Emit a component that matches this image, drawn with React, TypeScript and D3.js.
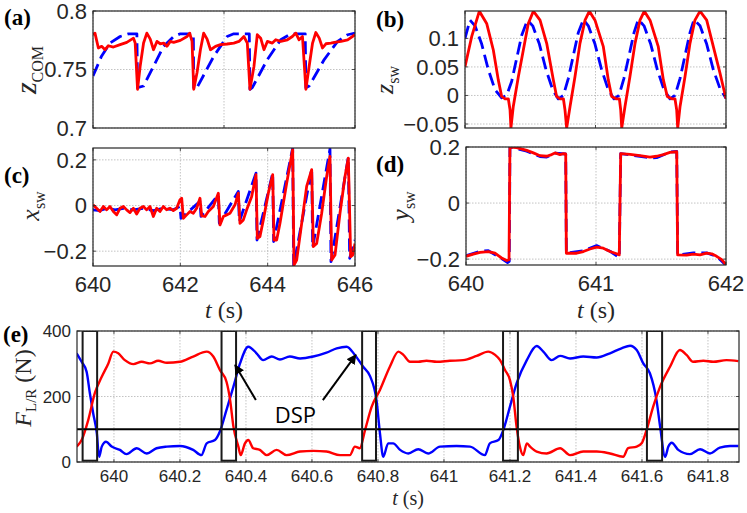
import React from "react";
import * as d3 from "d3";

type Pt = [number, number];

// (a) CoM height: reference (blue dashed) and measured (red)
const comRef: Pt[] = [
  [640.0, 0.7444], [640.065, 0.7614], [640.13, 0.7726], [640.207, 0.7782], [640.271, 0.7805], [640.335, 0.7805],
  [640.34, 0.7345], [640.386, 0.7359], [640.462, 0.7528], [640.539, 0.7698], [640.616, 0.7782], [640.667, 0.7805],
  [640.766, 0.7805], [640.769, 0.7331], [640.794, 0.7345], [640.922, 0.7613], [641.024, 0.7782], [641.075, 0.7805],
  [641.193, 0.7805], [641.198, 0.7331], [641.216, 0.7345], [641.331, 0.7585], [641.433, 0.7754], [641.51, 0.7805],
  [641.62, 0.7805], [641.625, 0.7345], [641.65, 0.7359], [641.765, 0.7585], [641.867, 0.774], [641.944, 0.7797],
  [642.0, 0.7811],
];
const comAct: Pt[] = [
  [640.0, 0.7797], [640.015, 0.7811], [640.041, 0.7684], [640.066, 0.7698], [640.092, 0.7669], [640.117, 0.7703],
  [640.156, 0.7692], [640.207, 0.7712], [640.258, 0.7732], [640.309, 0.7768], [640.322, 0.7726], [640.34, 0.7331],
  [640.36, 0.7528], [640.386, 0.7726], [640.411, 0.7811], [640.437, 0.776], [640.462, 0.7669], [640.488, 0.774],
  [640.513, 0.772], [640.539, 0.7726], [640.564, 0.7698], [640.59, 0.774], [640.616, 0.7732], [640.667, 0.7749],
  [640.718, 0.7782], [640.738, 0.7811], [640.756, 0.774], [640.769, 0.7331], [640.794, 0.7472], [640.82, 0.7669],
  [640.845, 0.7811], [640.871, 0.776], [640.897, 0.7669], [640.935, 0.7698], [640.973, 0.7712], [641.024, 0.7718],
  [641.075, 0.7726], [641.114, 0.774], [641.152, 0.7782], [641.178, 0.7726], [641.198, 0.7331], [641.229, 0.7528],
  [641.254, 0.7797], [641.28, 0.7768], [641.305, 0.7669], [641.331, 0.774], [641.369, 0.7726], [641.395, 0.7754],
  [641.433, 0.774], [641.484, 0.7754], [641.522, 0.7782], [641.548, 0.7811], [641.573, 0.7754], [641.599, 0.7782],
  [641.625, 0.7331], [641.65, 0.7528], [641.676, 0.7726], [641.701, 0.7816], [641.727, 0.7768], [641.752, 0.7684],
  [641.778, 0.772], [641.816, 0.7726], [641.842, 0.7732], [641.893, 0.774], [641.944, 0.7754], [642.0, 0.7797],
];

// (b) swing foot height
const zswRef: Pt[] = [
  [640.0, 0.1], [640.038, 0.132], [640.077, 0.122], [640.128, 0.09], [640.179, 0.045], [640.23, 0.01],
  [640.281, -0.004], [640.319, 0.0], [640.358, 0.025], [640.396, 0.065], [640.434, 0.105], [640.478, 0.132],
  [640.519, 0.122], [640.57, 0.09], [640.621, 0.045], [640.672, 0.01], [640.715, -0.006], [640.754, 0.0],
  [640.792, 0.03], [640.83, 0.07], [640.868, 0.11], [640.907, 0.133], [640.945, 0.122], [640.996, 0.09],
  [641.047, 0.045], [641.098, 0.01], [641.142, -0.006], [641.18, 0.0], [641.218, 0.03], [641.257, 0.07],
  [641.295, 0.11], [641.328, 0.133], [641.372, 0.122], [641.423, 0.09], [641.474, 0.045], [641.525, 0.01],
  [641.571, -0.006], [641.609, 0.0], [641.648, 0.03], [641.686, 0.07], [641.724, 0.11], [641.755, 0.133],
  [641.801, 0.122], [641.852, 0.09], [641.903, 0.045], [641.954, 0.012], [642.0, -0.005],
];
const zswAct: Pt[] = [
  [640.0, 0.0506], [640.051, 0.103], [640.11, 0.1477], [640.166, 0.1262], [640.217, 0.0797], [640.255, 0.0273],
  [640.281, -0.0017], [640.307, -0.0058], [640.332, -0.0058], [640.345, -0.025], [640.352, -0.057], [640.37, -0.0192],
  [640.409, 0.0331], [640.447, 0.0797], [640.485, 0.1262], [640.524, 0.1477], [640.575, 0.132], [640.626, 0.0913],
  [640.677, 0.0273], [640.702, -0.0017], [640.728, -0.0058], [640.754, -0.0058], [640.766, -0.025], [640.779, -0.057],
  [640.805, -0.0192], [640.843, 0.0331], [640.881, 0.0913], [640.92, 0.132], [640.953, 0.1477], [640.996, 0.132],
  [641.06, 0.0855], [641.098, 0.0273], [641.124, -0.0017], [641.157, -0.0058], [641.183, -0.0058], [641.193, -0.025],
  [641.201, -0.057], [641.226, -0.0192], [641.264, 0.0331], [641.303, 0.0913], [641.341, 0.132], [641.374, 0.1477],
  [641.418, 0.132], [641.481, 0.0855], [641.52, 0.0273], [641.55, -0.0017], [641.584, -0.0058], [641.609, -0.0058],
  [641.622, -0.025], [641.63, -0.057], [641.648, -0.0192], [641.686, 0.0331], [641.724, 0.0913], [641.762, 0.132],
  [641.801, 0.1477], [641.852, 0.132], [641.903, 0.0855], [641.954, 0.039], [642.0, -0.0058],
];

// (c) swing foot x
const xswRef: Pt[] = [
  [640.0, -0.019], [640.16, -0.022], [640.313, -0.012], [640.504, -0.019], [640.695, -0.012], [640.924, -0.019],
  [641.153, -0.012], [641.382, -0.022], [641.611, -0.012], [641.84, -0.019], [641.992, -0.004], [642.015, -0.056],
  [642.45, 0.018], [642.473, -0.048], [642.87, 0.047], [642.893, -0.078], [643.328, 0.062], [643.351, -0.07],
  [643.733, 0.142], [643.756, -0.151], [644.115, 0.142], [644.137, -0.158], [644.573, 0.252], [644.595, -0.265],
  [645.008, 0.16], [645.031, -0.183], [645.427, 0.248], [645.45, -0.246], [645.847, 0.212], [645.878, -0.231],
  [646.0, -0.151],
];
const xswAct: Pt[] = [
  [640.0, 0.003], [640.084, -0.012], [640.16, -0.026], [640.237, -0.004], [640.313, -0.019], [640.389, -0.004],
  [640.466, -0.026], [640.542, -0.041], [640.618, -0.012], [640.695, -0.004], [640.771, -0.019], [640.847, -0.031],
  [640.924, -0.012], [641.0, -0.037], [641.076, -0.012], [641.153, -0.004], [641.229, -0.019], [641.305, -0.004],
  [641.382, -0.048], [641.458, -0.012], [641.534, -0.026], [641.611, -0.004], [641.687, -0.019], [641.763, -0.012],
  [641.84, -0.022], [641.916, -0.012], [641.992, 0.025], [642.031, 0.032], [642.069, -0.056], [642.145, -0.041],
  [642.221, -0.026], [642.298, -0.034], [642.374, -0.012], [642.45, 0.032], [642.489, -0.045], [642.565, -0.048],
  [642.641, -0.026], [642.756, -0.004], [642.87, 0.054], [642.908, -0.085], [642.985, -0.048], [643.061, -0.041],
  [643.137, -0.034], [643.252, 0.003], [643.328, 0.054], [643.366, -0.078], [643.443, -0.063], [643.519, -0.019],
  [643.634, 0.04], [643.733, 0.135], [643.763, -0.144], [643.824, -0.136], [643.901, -0.063], [644.015, 0.054],
  [644.115, 0.135], [644.145, -0.151], [644.206, -0.151], [644.282, -0.078], [644.435, 0.098], [644.573, 0.245],
  [644.603, -0.261], [644.664, -0.239], [644.779, -0.078], [644.893, 0.084], [645.008, 0.157], [645.046, -0.18],
  [645.122, -0.166], [645.237, -0.034], [645.351, 0.127], [645.427, 0.215], [645.466, -0.239], [645.542, -0.217],
  [645.656, -0.034], [645.771, 0.127], [645.847, 0.208], [645.901, -0.224], [645.947, -0.217], [646.0, -0.166],
];

// (d) swing foot y
const yswRef: Pt[] = [
  [640.0, -0.188], [640.108, -0.172], [640.172, -0.17], [640.274, -0.198], [640.32, -0.212], [640.333, -0.208],
  [640.338, 0.2], [640.467, 0.185], [640.518, 0.175], [640.569, 0.166], [640.621, 0.164], [640.685, 0.178],
  [640.767, 0.175], [640.772, -0.179], [640.903, -0.17], [641.005, -0.152], [641.108, -0.172], [641.17, -0.192],
  [641.179, -0.194], [641.19, 0.176], [641.338, 0.167], [641.415, 0.161], [641.467, 0.162], [641.569, 0.182],
  [641.621, 0.184], [641.628, -0.185], [641.749, -0.178], [641.851, -0.178], [641.928, -0.19], [642.0, -0.222],
];
const yswAct: Pt[] = [
  [640.0, -0.19], [640.056, -0.182], [640.108, -0.176], [640.172, -0.173], [640.223, -0.179], [640.274, -0.196],
  [640.313, -0.205], [640.331, -0.202], [640.338, 0.2], [640.39, 0.198], [640.467, 0.188], [640.518, 0.179],
  [640.569, 0.169], [640.621, 0.167], [640.659, 0.173], [640.685, 0.179], [640.723, 0.173], [640.749, 0.176],
  [640.767, 0.175], [640.772, -0.179], [640.851, -0.179], [640.903, -0.173], [640.954, -0.164], [641.005, -0.157],
  [641.056, -0.161], [641.108, -0.173], [641.159, -0.181], [641.179, -0.185], [641.19, 0.176], [641.262, 0.174],
  [641.338, 0.169], [641.415, 0.164], [641.467, 0.167], [641.518, 0.173], [641.569, 0.181], [641.621, 0.183],
  [641.628, -0.185], [641.697, -0.186], [641.749, -0.182], [641.8, -0.185], [641.851, -0.179], [641.89, -0.181],
  [641.928, -0.19], [641.967, -0.202], [642.0, -0.22],
];

// (e) ground reaction forces
const forceRed: Pt[] = [
  [639.887, 47], [639.902, 67], [639.922, 128], [639.942, 210], [639.963, 260], [639.983, 301], [639.998, 337],
  [640.013, 332], [640.033, 311], [640.059, 299], [640.084, 306], [640.109, 301], [640.134, 309], [640.16, 303],
  [640.2, 306], [640.24, 322], [640.281, 337], [640.301, 322], [640.321, 281], [640.341, 245], [640.352, 189],
  [640.362, 108], [640.377, 47], [640.384, 21], [640.397, 57], [640.407, 67], [640.422, 42], [640.442, 37],
  [640.463, 21], [640.493, 37], [640.523, 21], [640.564, 32], [640.604, 34], [640.644, 32], [640.685, 21],
  [640.715, 21], [640.73, 47], [640.745, 42], [640.761, 98], [640.781, 169], [640.806, 220], [640.836, 291],
  [640.862, 337], [640.877, 327], [640.897, 306], [640.922, 306], [640.947, 309], [640.978, 306], [641.018, 309],
  [641.058, 311], [641.099, 324], [641.134, 337], [641.155, 327], [641.17, 311], [641.185, 281], [641.2, 250],
  [641.21, 199], [641.22, 108], [641.23, 47], [641.24, 21], [641.251, 57], [641.261, 47], [641.281, 32],
  [641.311, 26], [641.352, 42], [641.382, 21], [641.422, 32], [641.463, 32], [641.503, 26], [641.543, 16],
  [641.558, 42], [641.584, 47], [641.599, 57], [641.614, 98], [641.634, 169], [641.655, 230], [641.685, 291],
  [641.715, 342], [641.735, 327], [641.755, 306], [641.786, 309], [641.816, 306], [641.856, 311], [641.892, 308],
];
const forceBlue: Pt[] = [
  [639.887, 332], [639.902, 306], [639.917, 276], [639.927, 210], [639.937, 149], [639.948, 88], [639.955, 16],
  [639.963, 47], [639.976, 62], [639.993, 47], [640.018, 37], [640.038, 24], [640.069, 42], [640.099, 26],
  [640.129, 42], [640.16, 47], [640.2, 49], [640.24, 37], [640.265, 21], [640.281, 57], [640.306, 67],
  [640.321, 93], [640.341, 159], [640.362, 230], [640.382, 301], [640.407, 352], [640.432, 332], [640.452, 311],
  [640.478, 322], [640.503, 313], [640.533, 322], [640.564, 316], [640.604, 322], [640.644, 334], [640.675, 347],
  [640.705, 352], [640.73, 327], [640.755, 291], [640.776, 262], [640.796, 185], [640.806, 88], [640.816, 16],
  [640.831, 57], [640.846, 57], [640.867, 37], [640.892, 26], [640.922, 39], [640.952, 26], [640.988, 47],
  [641.038, 49], [641.079, 47], [641.124, 21], [641.139, 57], [641.165, 67], [641.18, 98], [641.2, 169],
  [641.22, 240], [641.251, 311], [641.281, 354], [641.301, 337], [641.326, 311], [641.352, 324], [641.382, 316],
  [641.422, 322], [641.463, 319], [641.503, 332], [641.538, 347], [641.564, 355], [641.584, 342], [641.604, 301],
  [641.624, 271], [641.644, 189], [641.655, 108], [641.67, 16], [641.68, 47], [641.69, 59], [641.71, 37],
  [641.745, 24], [641.776, 39], [641.806, 26], [641.836, 44], [641.867, 49], [641.892, 49],
];
const dspStart = [639.905, 640.326, 640.752, 641.179, 641.615];
const dspEnd = [639.949, 640.37, 640.794, 641.224, 641.661];
const threshold = 100;
const arrowTail: Pt[] = [[640.43, 189], [640.633, 189]];
const arrowHead: Pt[] = [[640.367, 296], [640.733, 327]];

const ticksA = [0.7, 0.75, 0.8];
const ticksB = [-0.05, 0, 0.05, 0.1];
const ticksCD = [-0.2, 0, 0.2];
const ticksTimeShort = [640, 641, 642];
const ticksTimeLong = [640, 642, 644, 646];
const ticksForce = [0, 200, 400];
const ticksForceTime = [640, 640.2, 640.4, 640.6, 640.8, 641, 641.2, 641.4, 641.6, 641.8];

const SANS = "'Liberation Sans', Arial, sans-serif";
const SERIF = "'Liberation Serif', 'Times New Roman', serif";
const RED = "#ff0000";
const BLUE = "#0000ff";

interface Box { l: number; r: number; t: number; b: number }
type Sx = d3.ScaleLinear<number, number>;

interface PanelProps {
  id: string;
  box: Box;
  xDomain: [number, number];
  yDomain: [number, number];
  xTicks: number[];
  yTicks: number[];
  showX: boolean;
  font: number;
  ref_?: Pt[];
  act?: Pt[];
  refDashed?: boolean;
  lw?: number;
  extra?: (x: Sx, y: Sx) => React.ReactNode;
}

function fmt(v: number) {
  return d3.format("~g")(+v.toFixed(4));
}

function Panel(p: PanelProps) {
  const { box } = p;
  const x = d3.scaleLinear().domain(p.xDomain).range([box.l, box.r]);
  const y = d3.scaleLinear().domain(p.yDomain).range([box.b, box.t]);
  const line = d3.line<Pt>().x((d) => x(d[0])).y((d) => y(d[1]));
  const lw = p.lw ?? 2.8;
  const grid = "#b4b4b4";
  return (
    <g>
      <defs>
        <clipPath id={`clip-${p.id}`}>
          <rect x={box.l} y={box.t} width={box.r - box.l} height={box.b - box.t} />
        </clipPath>
      </defs>
      {p.xTicks.map((t) => (
        <line key={`gx${t}`} x1={x(t)} x2={x(t)} y1={box.t} y2={box.b} stroke={grid} strokeWidth={0.8} strokeDasharray="1.5,1.5" />
      ))}
      {p.yTicks.map((t) => (
        <line key={`gy${t}`} x1={box.l} x2={box.r} y1={y(t)} y2={y(t)} stroke={grid} strokeWidth={0.8} strokeDasharray="1.5,1.5" />
      ))}
      <g clipPath={`url(#clip-${p.id})`}>
        {p.ref_ && (
          <path d={line(p.ref_) ?? ""} fill="none" stroke={BLUE} strokeWidth={lw} strokeDasharray={p.refDashed ? "13,6" : undefined} strokeLinejoin="round" />
        )}
        {p.act && <path d={line(p.act) ?? ""} fill="none" stroke={RED} strokeWidth={lw} strokeLinejoin="round" />}
        {p.extra && p.extra(x, y)}
      </g>
      {p.xTicks.map((t) => (
        <g key={`tx${t}`} stroke="#262626" strokeWidth={0.8}>
          <line x1={x(t)} x2={x(t)} y1={box.b} y2={box.b - 3} />
          <line x1={x(t)} x2={x(t)} y1={box.t} y2={box.t + 3} />
        </g>
      ))}
      {p.yTicks.map((t) => (
        <g key={`ty${t}`} stroke="#262626" strokeWidth={0.8}>
          <line x1={box.l} x2={box.l + 3} y1={y(t)} y2={y(t)} />
          <line x1={box.r} x2={box.r - 3} y1={y(t)} y2={y(t)} />
        </g>
      ))}
      <rect x={box.l} y={box.t} width={box.r - box.l} height={box.b - box.t} fill="none" stroke="#262626" strokeWidth={1.2} />
      {p.yTicks.map((t) => (
        <text key={`ly${t}`} x={box.l - 6} y={y(t)} dy="0.36em" textAnchor="end" fontFamily={SANS} fontSize={p.font} fill="#262626">
          {fmt(t)}
        </text>
      ))}
      {p.showX &&
        p.xTicks.map((t) => (
          <text key={`lx${t}`} x={x(t)} y={box.b + p.font * 1.2} textAnchor="middle" fontFamily={SANS} fontSize={p.font} fill="#262626">
            {fmt(t)}
          </text>
        ))}
    </g>
  );
}

function YLabel({ x, y, main, sub, tail, size, subSize }: { x: number; y: number; main: string; sub: string; tail?: string; size: number; subSize: number }) {
  return (
    <text transform={`translate(${x},${y}) rotate(-90)`} textAnchor="middle" fontFamily={SERIF} fontSize={size} fill="#262626">
      <tspan fontStyle="italic">{main}</tspan>
      <tspan fontSize={subSize} dy={size * 0.22}>{sub}</tspan>
      {tail && <tspan dy={-size * 0.22}>{tail}</tspan>}
    </text>
  );
}

function TLabel({ x, y, size }: { x: number; y: number; size: number }) {
  return (
    <text x={x} y={y} textAnchor="middle" fontFamily={SERIF} fontSize={size} fill="#262626">
      <tspan fontStyle="italic">t</tspan> (s)
    </text>
  );
}

function PLabel({ x, y, s }: { x: number; y: number; s: string }) {
  return (
    <text x={x} y={y} fontFamily={SERIF} fontWeight="bold" fontSize={23} fill="#000">
      {s}
    </text>
  );
}

export default function App() {
  const boxA = { l: 93, r: 355, t: 11, b: 128 };
  const boxB = { l: 465, r: 726, t: 11, b: 128 };
  const boxC = { l: 93, r: 355, t: 148, b: 266 };
  const boxD = { l: 466, r: 726, t: 147, b: 265 };
  const boxE = { l: 77, r: 739, t: 331, b: 462 };

  const forceExtra = (x: Sx, y: Sx) => {
    const line = d3.line<Pt>().x((d) => x(d[0])).y((d) => y(d[1])).curve(d3.curveMonotoneX);
    return (
      <g>
        <path d={line(forceBlue) ?? ""} fill="none" stroke={BLUE} strokeWidth={2.4} />
        <path d={line(forceRed) ?? ""} fill="none" stroke={RED} strokeWidth={2.4} />
        <line x1={boxE.l} x2={boxE.r} y1={y(threshold)} y2={y(threshold)} stroke="#000" strokeWidth={2} />
        {dspStart.map((s, i) => (
          <rect key={i} x={x(s)} y={y(400)} width={x(dspEnd[i]) - x(s)} height={y(4) - y(400)} fill="none" stroke="#1a1a1a" strokeWidth={2} />
        ))}
      </g>
    );
  };

  const fx = d3.scaleLinear().domain([639.888, 641.894]).range([boxE.l, boxE.r]);
  const fy = d3.scaleLinear().domain([0, 400]).range([boxE.b, boxE.t]);

  return (
    <svg width={747} height={513} style={{ position: "absolute", left: 0, top: 0, background: "#fff" }}>
      <defs>
        <marker id="ah" viewBox="0 0 10 10" refX="9" refY="5" markerWidth="5" markerHeight="5" orient="auto-start-reverse">
          <path d="M0,0 L10,5 L0,10 z" fill="#000" />
        </marker>
      </defs>
      <rect width={747} height={513} fill="#fff" />
      <Panel id="a" box={boxA} xDomain={[640, 642]} yDomain={[0.7, 0.8]} xTicks={ticksTimeShort} yTicks={ticksA} showX={false} font={22} ref_={comRef} act={comAct} refDashed />
      <Panel id="b" box={boxB} xDomain={[640, 642]} yDomain={[-0.057, 0.148]} xTicks={ticksTimeShort} yTicks={ticksB} showX={false} font={22} ref_={zswRef} act={zswAct} refDashed />
      <Panel id="c" box={boxC} xDomain={[640, 646]} yDomain={[-0.265, 0.252]} xTicks={ticksTimeLong} yTicks={ticksCD} showX font={22} ref_={xswRef} act={xswAct} refDashed />
      <Panel id="d" box={boxD} xDomain={[640, 642]} yDomain={[-0.221, 0.2]} xTicks={ticksTimeShort} yTicks={ticksCD} showX font={22} ref_={yswRef} act={yswAct} refDashed />
      <Panel id="e" box={boxE} xDomain={[639.888, 641.894]} yDomain={[0, 400]} xTicks={ticksForceTime} yTicks={ticksForce} showX font={17} extra={forceExtra} />

      {arrowTail.map((t, i) => (
        <line key={i} x1={fx(t[0])} y1={fy(t[1])} x2={fx(arrowHead[i][0])} y2={fy(arrowHead[i][1])} stroke="#000" strokeWidth={2} markerEnd="url(#ah)" />
      ))}
      <text x={fx(640.55)} y={fy(120)} textAnchor="middle" fontFamily="'Open Sans', 'Noto Sans', sans-serif" fontSize={22} fill="#000">
        DSP
      </text>

      <YLabel x={36} y={70} main="z" sub="COM" size={30} subSize={16} />
      <YLabel x={393} y={80} main="z" sub="sw" size={26} subSize={16} />
      <YLabel x={39} y={206} main="x" sub="sw" size={26} subSize={16} />
      <YLabel x={409} y={206} main="y" sub="sw" size={26} subSize={16} />
      <YLabel x={31} y={388} main="F" sub="L/R" tail=" (N)" size={24} subSize={15} />

      <TLabel x={224} y={318} size={24} />
      <TLabel x={596} y={318} size={24} />
      <TLabel x={408} y={505} size={20} />

      <PLabel x={4} y={25} s="(a)" />
      <PLabel x={376} y={27} s="(b)" />
      <PLabel x={4} y={183} s="(c)" />
      <PLabel x={376} y={172} s="(d)" />
      <PLabel x={3} y={342} s="(e)" />
    </svg>
  );
}
